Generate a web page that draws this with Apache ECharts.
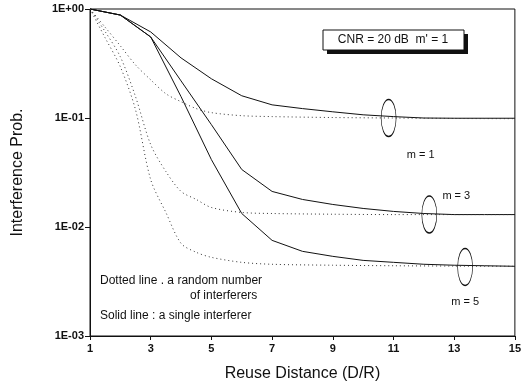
<!DOCTYPE html>
<html>
<head>
<meta charset="utf-8">
<script src="https://cdn.jsdelivr.net/npm/echarts@6/dist/echarts.min.js"></script>
<style>
  html, body { margin: 0; padding: 0; background: #fff; }
  #chart { width: 524px; height: 387px; }
</style>
</head>
<body>
<div id="chart"></div>
<script>
// reuse distance (D/R) sample points
const solidDist = [1, 2, 3, 4, 5, 6, 7, 8, 9, 10, 11, 12, 13, 14, 15];
const dottedDist = [1, 1.5, 2, 2.5, 3, 3.5, 4, 4.5, 5, 6, 7, 9, 11, 13, 15];

// single interferer (solid)
const solidM1 = [1.0, 0.88, 0.616, 0.356, 0.229, 0.160, 0.132, 0.122, 0.114, 0.107, 0.103, 0.100, 0.0995, 0.0995, 0.0995];
const solidM3 = [1.0, 0.88, 0.554, 0.219, 0.0869, 0.0337, 0.0212, 0.0179, 0.0161, 0.0148, 0.0139, 0.0133, 0.0130, 0.0130, 0.0130];
const solidM5 = [1.0, 0.88, 0.554, 0.157, 0.0415, 0.0133, 0.00754, 0.00598, 0.00538, 0.00494, 0.00474, 0.00455, 0.00446, 0.00441, 0.00436];

// random number of interferers (dotted)
const dottedM1 = [1.0, 0.68, 0.459, 0.307, 0.224, 0.167, 0.141, 0.122, 0.112, 0.105, 0.103, 0.101, 0.100, 0.099, 0.0986];
const dottedM3 = [1.0, 0.62, 0.364, 0.157, 0.0570, 0.0323, 0.0212, 0.0179, 0.0151, 0.0136, 0.0133, 0.0131, 0.0130, 0.0130, 0.0130];
const dottedM5 = [1.0, 0.543, 0.295, 0.119, 0.0272, 0.0136, 0.00708, 0.00586, 0.00527, 0.00474, 0.00455, 0.00446, 0.00441, 0.00438, 0.00436];

// axis ticks
const xTicks = [1, 3, 5, 7, 9, 11, 13, 15];
const yTickLabels = ['1E-03', '1E-02', '1E-01', '1E+00'];

// ellipse markers: [distance, prob, label, label offset]
const markers = [
  [10.84, 0.1, 'm = 1', [32, 37]],
  [12.18, 0.013, 'm = 3', [27, -19]],
  [13.36, 0.0043, 'm = 5', [0, 35]],
];

const font = 'Liberation Sans, Arial, sans-serif';
const zip = (xs, ys) => xs.map((x, i) => [x, ys[i]]);

const solidLine = (name, ys) => ({
  name,
  type: 'line',
  data: zip(solidDist, ys),
  showSymbol: false,
  lineStyle: { color: '#111', width: 1 },
  silent: true,
  z: 3,
});

const dottedLine = (name, ys, mk) => ({
  name,
  type: 'line',
  data: zip(dottedDist, ys),
  showSymbol: false,
  smooth: 0.3,
  lineStyle: { color: '#333', width: 1, type: [1, 3] },
  silent: true,
  markPoint: {
    symbol: 'circle',
    symbolSize: [15, 37],
    itemStyle: { color: 'rgba(0,0,0,0)', borderColor: '#111', borderWidth: 1 },
    label: {
      show: true,
      formatter: mk[2],
      color: '#111',
      fontFamily: font,
      fontSize: 11,
      offset: mk[3],
    },
    data: [{ coord: [mk[0], mk[1]] }],
  },
});

const chart = echarts.init(document.getElementById('chart'), null, { renderer: 'canvas' });

chart.setOption({
  animation: false,
  backgroundColor: '#fff',
  grid: {
    left: 90, right: 7, top: 9, bottom: 50,
    show: true, borderColor: '#111', borderWidth: 1,
  },
  xAxis: {
    type: 'value',
    min: 1,
    max: 15,
    name: 'Reuse Distance (D/R)',
    nameLocation: 'middle',
    nameGap: 30,
    nameTextStyle: { fontFamily: font, fontSize: 16, color: '#111' },
    axisLine: { lineStyle: { color: '#111', width: 1 } },
    axisTick: { customValues: xTicks, length: 4, lineStyle: { color: '#111' } },
    axisLabel: {
      customValues: xTicks,
      margin: 7,
      fontFamily: font,
      fontSize: 11,
      fontWeight: 'bold',
      color: '#111',
    },
    splitLine: { show: false },
  },
  yAxis: {
    type: 'log',
    logBase: 10,
    min: 0.001,
    max: 1,
    name: 'Interference Prob.',
    nameLocation: 'middle',
    nameGap: 64,
    nameTextStyle: { fontFamily: font, fontSize: 16, color: '#111' },
    axisLine: { lineStyle: { color: '#111', width: 1 } },
    axisTick: { length: 5, lineStyle: { color: '#111' } },
    axisLabel: {
      margin: 6,
      fontFamily: font,
      fontSize: 11,
      fontWeight: 'bold',
      color: '#111',
      formatter: (v) => yTickLabels[Math.round(Math.log10(v)) + 3],
    },
    splitLine: { show: false },
  },
  graphic: [
    // CNR legend box with drop shadow
    { type: 'rect', shape: { x: 327, y: 34, width: 141, height: 20 }, style: { fill: '#111' }, z: 10 },
    { type: 'rect', shape: { x: 323, y: 30, width: 141, height: 20 }, style: { fill: '#fff', stroke: '#111', lineWidth: 1 }, z: 11 },
    { type: 'text', x: 393, y: 40, z: 12, style: { text: "CNR = 20 dB  m' = 1", font: '12px ' + font, fill: '#111', align: 'center', verticalAlign: 'middle' } },
    // notes
    { type: 'text', x: 100, y: 281, style: { text: 'Dotted line . a random number', font: '12px ' + font, fill: '#111', verticalAlign: 'middle' } },
    { type: 'text', x: 190, y: 296, style: { text: 'of interferers', font: '12px ' + font, fill: '#111', verticalAlign: 'middle' } },
    { type: 'text', x: 100, y: 316, style: { text: 'Solid line : a single interferer', font: '12px ' + font, fill: '#111', verticalAlign: 'middle' } },
  ],
  series: [
    solidLine('single m=1', solidM1),
    solidLine('single m=3', solidM3),
    solidLine('single m=5', solidM5),
    dottedLine('random m=1', dottedM1, markers[0]),
    dottedLine('random m=3', dottedM3, markers[1]),
    dottedLine('random m=5', dottedM5, markers[2]),
  ],
});
</script>
</body>
</html>
